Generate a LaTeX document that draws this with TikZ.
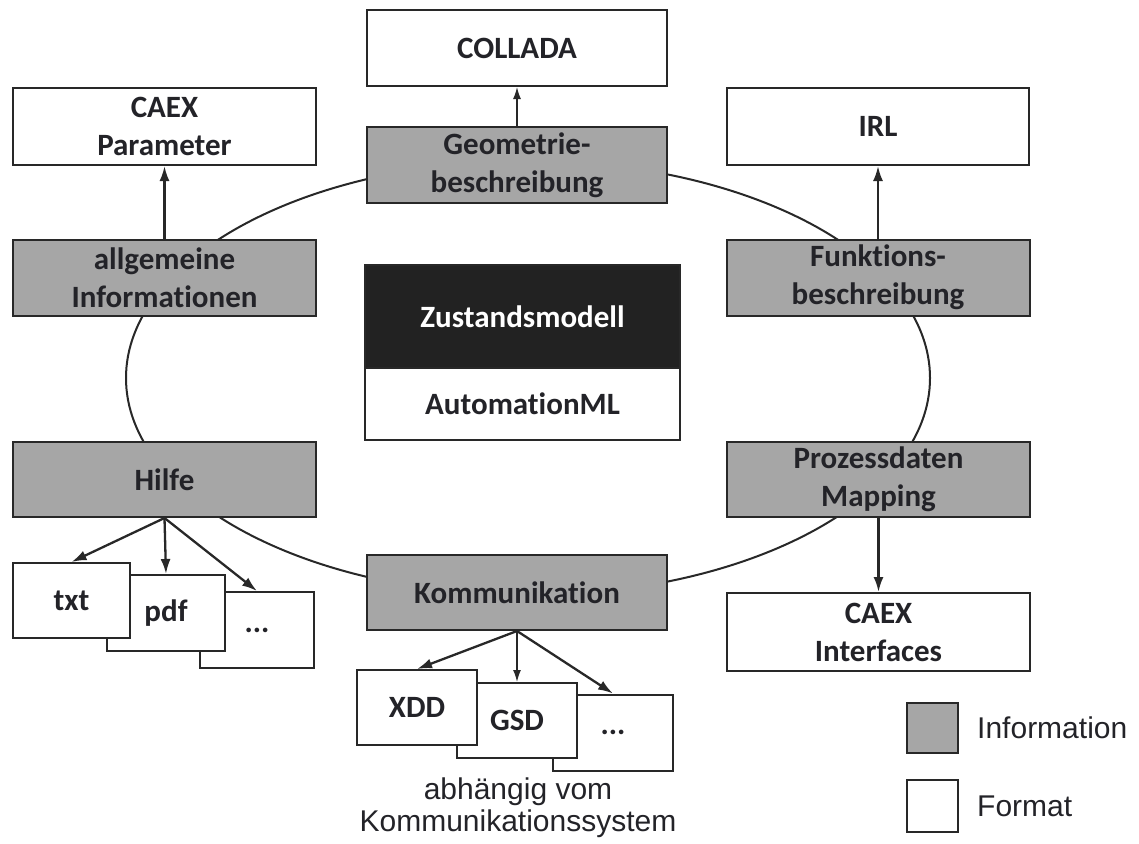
\documentclass[tikz,border=0pt]{standalone}
\usepackage{fontspec}
\setmainfont[Ligatures=NoCommon]{Carlito}
\newfontfamily\legendfont{Liberation Sans}
\usetikzlibrary{arrows.meta}

\definecolor{infogray}{RGB}{166,166,166}
\definecolor{boxline}{RGB}{40,40,40}
\definecolor{modelfill}{RGB}{34,34,34}
\definecolor{labeltext}{RGB}{35,35,40}

\newcommand\boxfont{\fontsize{31}{38}\selectfont\bfseries}
\newcommand\capfont{\legendfont\fontsize{30}{32}\selectfont}

\tikzset{
  basebox/.style={draw=boxline, line width=2pt, inner sep=0pt, align=center,
    font=\boxfont, text=labeltext},
  infobox/.style={basebox, fill=infogray, minimum width=303pt, minimum height=76pt},
  fmtbox/.style={basebox, fill=white, minimum width=303pt, minimum height=77pt},
  smallbox/.style={basebox, fill=white, minimum width=118pt, minimum height=76pt},
  link/.style={line width=2.3pt, draw=boxline, -{Latex[length=15pt,width=10pt]}},
  thinlink/.style={line width=1.4pt, draw=boxline, -{Latex[length=12pt,width=8pt]}},
  ring/.style={line width=2pt, draw=boxline},
  legendbox/.style={draw=boxline, line width=2pt, minimum width=51pt, minimum height=51pt, inner sep=0pt},
  legendtext/.style={anchor=west, inner sep=0pt, font=\capfont, text=labeltext}
}

\begin{document}
\begin{tikzpicture}[x=1pt,y=-1pt]
  \useasboundingbox (0,0) rectangle (1139,843);

  % central ring linking the information aspects
  \draw[ring] (528,378) ellipse [x radius=402, y radius=217];

  % information aspects
  \node[infobox, minimum width=300pt] (geo)  at (517,165)   {Geometrie-\\beschreibung};
  \node[infobox] (allg) at (164.5,277.5) {allgemeine\\Informationen};
  \node[infobox] (funk) at (878,277.5)   {Funktions-\\beschreibung};
  \node[infobox, minimum height=75pt] (hilfe) at (164.5,479.5) {Hilfe};
  \node[infobox, minimum height=75pt] (proz)  at (878.5,479.5) {Prozessdaten\\Mapping};
  \node[infobox, minimum width=300pt, minimum height=75pt] (komm) at (517,592.5) {Kommunikation};

  % formats
  \node[fmtbox, minimum width=300pt, minimum height=76pt] (colla) at (517,48) {COLLADA};
  \node[fmtbox] (caexp) at (164.5,126.5) {CAEX\\Parameter};
  \node[fmtbox, minimum width=302pt] (irl) at (878,126.5) {IRL};
  \node[fmtbox, minimum height=78pt] (caexi) at (878.5,632) {CAEX\\Interfaces};

  % state model in the centre
  \node[basebox, fill=modelfill, text=white, minimum width=315pt, minimum height=103pt] (zust) at (522.5,316.5) {Zustandsmodell};
  \node[basebox, fill=white, minimum width=315pt, minimum height=72pt] (aml) at (522.5,404) {AutomationML};

  % help documents (stacked)
  \node[smallbox, minimum width=114pt] (hdots) at (257,630) {...};
  \node[smallbox] (pdf) at (166,613) {pdf};
  \node[smallbox, minimum width=117pt, minimum height=75pt] (txt) at (71.5,600.5) {txt};

  % communication descriptions (stacked)
  \node[smallbox, minimum width=120pt] (kdots) at (613,732.5) {...};
  \node[smallbox, minimum width=120pt, minimum height=75pt] (gsd) at (517,720.5) {GSD};
  \node[smallbox, minimum width=120pt, minimum height=75pt] (xdd) at (417,707.5) {XDD};

  \node[font=\capfont, text=labeltext, align=center, inner sep=0pt] (dep) at (518,808)
    {abhängig vom\\Kommunikationssystem};

  % connectors
  \draw[thinlink] (geo.north) -- (colla.south);
  \draw[link] (allg.north) -- (caexp.south);
  \draw[link] (funk.north) -- (irl.south);
  \draw[link] (proz.south) -- (caexi.north);
  \draw[link] (hilfe.south) -- (txt.north);
  \draw[link] (hilfe.south) -- (pdf.north);
  \draw[link] (hilfe.south) -- (hdots.north);
  \draw[link] (komm.south) -- (xdd.north);
  \draw[thinlink] (komm.south) -- (gsd.north);
  \draw[link] (komm.south) -- (kdots.north);

  % legend
  \node[legendbox, fill=infogray, minimum height=50pt] (leginfo) at (932.5,728) {};
  \node[legendtext] (leginfotext) at (977,728) {Information};
  \node[legendbox, fill=white, minimum height=52pt] (legfmt) at (932.5,806) {};
  \node[legendtext] (legfmttext) at (977,806) {Format};
\end{tikzpicture}
\end{document}
